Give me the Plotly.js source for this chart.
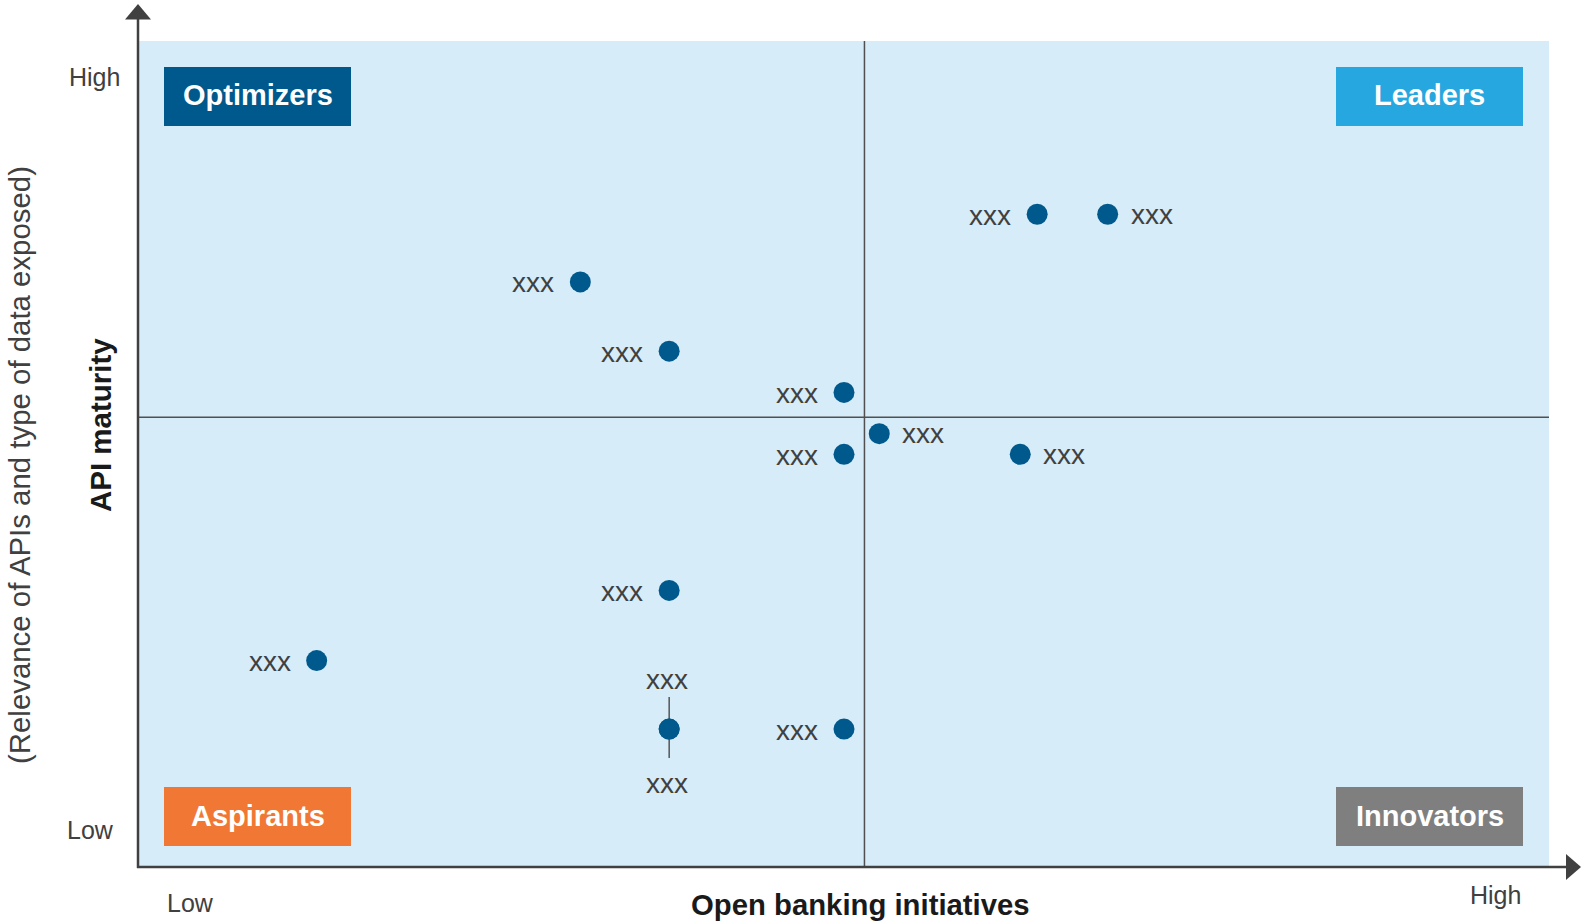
<!DOCTYPE html>
<html>
<head>
<meta charset="utf-8">
<script src="https://cdn.plot.ly/plotly-3.0.1.min.js"></script>
<style>
  html, body { margin: 0; padding: 0; background: #ffffff; }
  #chart { width: 1581px; height: 923px; }
</style>
</head>
<body>
<div id="chart"></div>
<script>
// ---- Data ----
const pointLabels = ['xxx','xxx','xxx','xxx','xxx','xxx','xxx','xxx','xxx','xxx','xxx','xxx','xxx'];
const openBanking = [63.7, 68.7, 31.3, 37.6, 50.0, 52.5, 50.0, 62.5, 37.6, 12.6, 37.6, 37.6, 50.0];
const apiMaturity = [79.0, 79.0, 70.8, 62.4, 57.4, 52.4, 49.9, 49.9, 33.4, 24.9, 16.6, 16.6, 16.6];
const labelSide   = ['left','right','left','left','left','right','left','right','left','left','top','bottom','left'];

const dividerX = 51.45;   // quadrant split on x
const dividerY = 54.4;    // quadrant split on y

const quadrantNames  = ['Optimizers', 'Leaders', 'Aspirants', 'Innovators'];
const quadrantColors = ['#00598C', '#27A7DF', '#F07834', '#7F7F7F'];

const axisLowHigh = ['Low', 'High'];
const xTitle = 'Open banking initiatives';
const yTitle = 'API maturity';
const ySubtitle = '(Relevance of APIs and type of data exposed)';

// ---- Layout helpers ----
const W = 1581, H = 923;
const L = 139, R = 1549, T = 41, B = 866;
const px = v => (v - L) / (R - L);
const py = v => (B - v) / (B - T);

const FONT = 'Liberation Sans, Arial, Helvetica, sans-serif';
const TEXT = '#404040';
const AXIS = '#404040';

const trace = {
  type: 'scatter',
  mode: 'markers',
  x: openBanking,
  y: apiMaturity,
  marker: { size: 21, color: '#00598C', line: { width: 0 } },
  hoverinfo: 'x+y',
  showlegend: false,
  cliponaxis: false
};

const annotations = [];
const shapes = [];

// point labels
pointLabels.forEach((t, i) => {
  const side = labelSide[i];
  const a = {
    x: openBanking[i], y: apiMaturity[i], xref: 'x', yref: 'y',
    text: t, showarrow: false,
    font: { family: FONT, size: 28, color: TEXT },
    borderpad: 0, borderwidth: 0
  };
  if (side === 'left')  { a.xanchor = 'right'; a.xshift = -26; a.yshift = -1; a.yanchor = 'middle'; }
  if (side === 'right') { a.xanchor = 'left';  a.xshift = 23;  a.yshift = 0; a.yanchor = 'middle'; }
  if (side === 'top')   { a.xanchor = 'center'; a.xshift = -2; a.yanchor = 'middle'; a.yshift = 50; }
  if (side === 'bottom'){ a.xanchor = 'center'; a.xshift = -2; a.yanchor = 'middle'; a.yshift = -54; }
  annotations.push(a);
  if (side === 'top' || side === 'bottom') {
    shapes.push({
      type: 'line', layer: 'below', xref: 'x', yref: 'y',
      x0: openBanking[i], x1: openBanking[i],
      ysizemode: 'pixel', yanchor: apiMaturity[i],
      y0: 0, y1: side === 'top' ? 32 : -29,
      line: { color: AXIS, width: 1.3 }
    });
  }
});

// quadrant dividers
shapes.push({ type: 'line', layer: 'below', xref: 'x', yref: 'y', x0: dividerX, x1: dividerX, y0: 0, y1: 100, line: { color: '#505050', width: 1.5 } });
shapes.push({ type: 'line', layer: 'below', xref: 'x', yref: 'y', x0: 0, x1: 100, y0: dividerY, y1: dividerY, line: { color: '#505050', width: 1.5 } });

// quadrant boxes
const boxX = [[164, 351], [1336, 1523], [164, 351], [1336, 1523]];
const boxY = [[67, 126], [67, 126], [787, 846], [787, 846]];
quadrantNames.forEach((n, i) => {
  shapes.push({
    type: 'rect', layer: 'above', xref: 'paper', yref: 'paper',
    x0: px(boxX[i][0]), x1: px(boxX[i][1]), y0: py(boxY[i][1]), y1: py(boxY[i][0]),
    fillcolor: quadrantColors[i], line: { width: 0 }
  });
  annotations.push({
    xref: 'paper', yref: 'paper',
    x: px((boxX[i][0] + boxX[i][1]) / 2), y: py((boxY[i][0] + boxY[i][1]) / 2 - 1),
    xanchor: 'center', yanchor: 'middle', showarrow: false,
    text: '<b>' + n + '</b>',
    font: { family: FONT, size: 29, color: '#ffffff' }
  });
});

// axis lines with arrowheads
shapes.push({ type: 'line', xref: 'paper', yref: 'paper', x0: px(138), x1: px(138), y0: py(868), y1: py(17), line: { color: AXIS, width: 2.5 } });
shapes.push({ type: 'path', xref: 'paper', yref: 'paper',
  path: `M ${px(138)} ${py(4)} L ${px(125)} ${py(19.5)} L ${px(151)} ${py(19.5)} Z`,
  fillcolor: AXIS, line: { width: 0 } });
shapes.push({ type: 'line', xref: 'paper', yref: 'paper', x0: px(137), x1: px(1568), y0: py(867), y1: py(867), line: { color: AXIS, width: 2.5 } });
shapes.push({ type: 'path', xref: 'paper', yref: 'paper',
  path: `M ${px(1581)} ${py(867)} L ${px(1566)} ${py(854)} L ${px(1566)} ${py(880)} Z`,
  fillcolor: AXIS, line: { width: 0 } });

// Low / High labels
const lhFont = { family: FONT, size: 25, color: TEXT };
annotations.push({ xref: 'paper', yref: 'paper', x: px(122), y: py(77), xanchor: 'right', yanchor: 'middle', showarrow: false, text: axisLowHigh[1], font: lhFont });
annotations.push({ xref: 'paper', yref: 'paper', x: px(116), y: py(830), xanchor: 'right', yanchor: 'middle', showarrow: false, text: axisLowHigh[0], font: lhFont });
annotations.push({ xref: 'paper', yref: 'paper', x: px(190), y: py(903), xanchor: 'center', yanchor: 'middle', showarrow: false, text: axisLowHigh[0], font: lhFont });
annotations.push({ xref: 'paper', yref: 'paper', x: px(1495), y: py(895), xanchor: 'center', yanchor: 'middle', showarrow: false, text: axisLowHigh[1], font: lhFont });

// axis titles
annotations.push({ xref: 'paper', yref: 'paper', x: px(860), y: py(904), xanchor: 'center', yanchor: 'middle', showarrow: false,
  text: '<b>' + xTitle + '</b>', font: { family: FONT, size: 29.3, color: '#1a1a1a' } });
annotations.push({ xref: 'paper', yref: 'paper', x: px(100), y: py(425), xanchor: 'center', yanchor: 'middle', showarrow: false, textangle: -90,
  text: '<b>' + yTitle + '</b>', font: { family: FONT, size: 29.5, color: '#1a1a1a' } });
annotations.push({ xref: 'paper', yref: 'paper', x: px(19), y: py(465), xanchor: 'center', yanchor: 'middle', showarrow: false, textangle: -90,
  text: ySubtitle, font: { family: FONT, size: 29.4, color: TEXT } });

const layout = {
  width: W, height: H,
  margin: { l: L, r: W - R, t: T, b: H - B, pad: 0 },
  paper_bgcolor: '#ffffff',
  plot_bgcolor: '#D6ECF8',
  xaxis: { range: [0, 100], showgrid: false, zeroline: false, showticklabels: false, ticks: '', showline: false, fixedrange: true },
  yaxis: { range: [0, 100], showgrid: false, zeroline: false, showticklabels: false, ticks: '', showline: false, fixedrange: true },
  shapes: shapes,
  annotations: annotations,
  showlegend: false,
  font: { family: FONT }
};

Plotly.newPlot('chart', [trace], layout, { displayModeBar: false, staticPlot: true });
</script>
</body>
</html>
